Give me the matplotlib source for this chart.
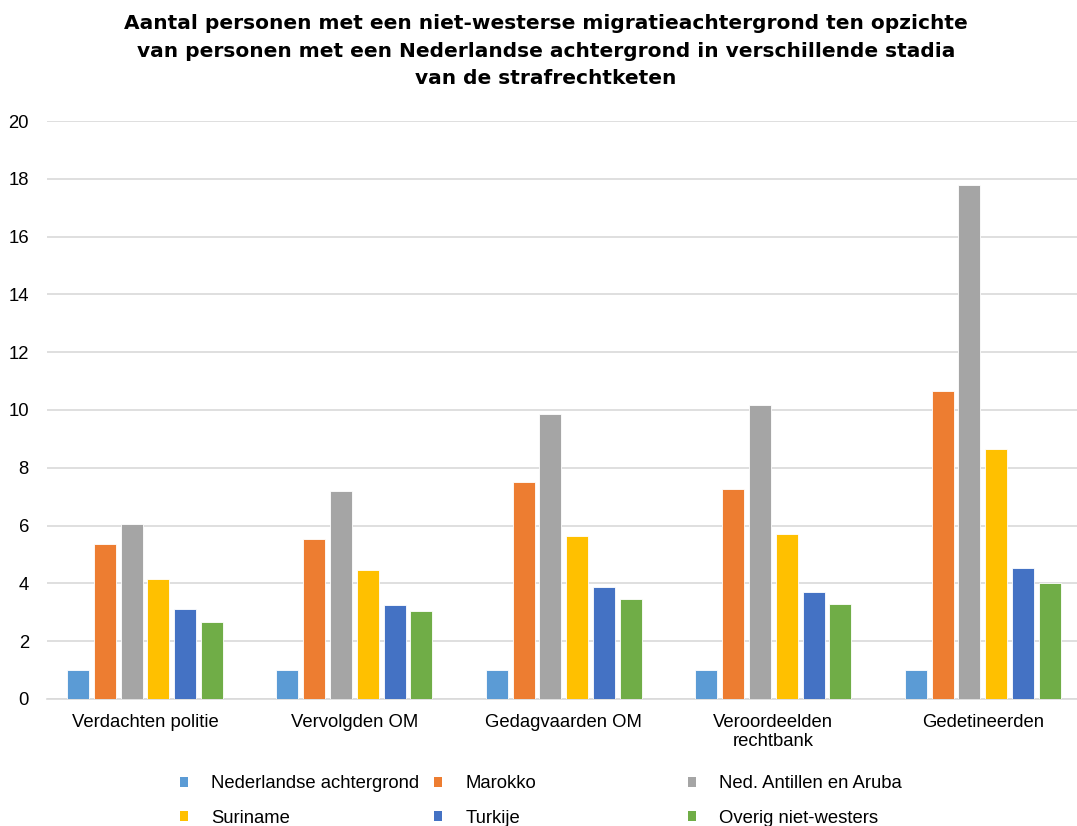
import matplotlib.pyplot as plt
from matplotlib.patches import Patch

plt.rcParams['font.family'] = ['Liberation Sans', 'DejaVu Sans']

# data
stages = ['Verdachten politie', 'Vervolgden OM', 'Gedagvaarden OM',
          'Veroordeelden\nrechtbank', 'Gedetineerden']
series = ['Nederlandse achtergrond', 'Marokko', 'Ned. Antillen en Aruba',
          'Suriname', 'Turkije', 'Overig niet-westers']
nederlands = [1.0, 1.0, 1.0, 1.0, 1.0]
marokko = [5.35, 5.55, 7.5, 7.25, 10.67]
antillen = [6.04, 7.18, 9.86, 10.17, 17.8]
suriname = [4.14, 4.47, 5.63, 5.72, 8.64]
turkije = [3.10, 3.24, 3.87, 3.70, 4.52]
overig = [2.67, 3.03, 3.45, 3.27, 4.02]
colors = ['#5B9BD5', '#ED7D31', '#A5A5A5', '#FFC000', '#4472C4', '#70AD47']

values = [nederlands, marokko, antillen, suriname, turkije, overig]

fig = plt.figure(figsize=(10.77, 8.26), dpi=100)
ax = fig.add_axes([0.0436, 0.1538, 0.9564, 0.6997])

step = 0.128
width = 0.105
for j, vals in enumerate(values):
    xs = [i + (j - 2.5) * step for i in range(len(stages))]
    ax.bar(xs, vals, width=width, color=colors[j], edgecolor='white',
           linewidth=0.6, zorder=3)

ax.set_xlim(-0.468, 4.45)
ax.set_ylim(0, 20)
ax.set_yticks(range(0, 21, 2))
ax.set_xticks(range(len(stages)))
ax.set_xticklabels(stages, fontsize=13.3, linespacing=1.1)
ax.tick_params(axis='y', labelsize=13.3, length=0, pad=13)
ax.tick_params(axis='x', length=0, pad=11)
ax.grid(axis='y', color='#D9D9D9', linewidth=1.2, zorder=0)
for s in ['left', 'right', 'top']:
    ax.spines[s].set_visible(False)
ax.spines['bottom'].set_color('#D9D9D9')
ax.spines['bottom'].set_linewidth(1.2)

fig.text(0.507, 0.983,
         'Aantal personen met een niet-westerse migratieachtergrond ten opzichte\n'
         'van personen met een Nederlandse achtergrond in verschillende stadia\n'
         'van de strafrechtketen',
         ha='center', va='top', fontsize=14.5, fontweight='bold',
         linespacing=1.58, family='DejaVu Sans')

# legend: three columns of two entries
cols = [(0, 3), (1, 4), (2, 5)]
xpos = [180, 434, 688]
for (a, b), x in zip(cols, xpos):
    handles = [Patch(facecolor=colors[k], label=series[k]) for k in (a, b)]
    fig.legend(handles=handles, loc='center left',
               bbox_to_anchor=(x / 1077, 1 - 801 / 826), frameon=False,
               fontsize=13.3, handlelength=0.45, handleheight=0.45,
               handletextpad=1.25, labelspacing=0.95, borderpad=0,
               borderaxespad=0)

fig.savefig('out.png', dpi=100)
